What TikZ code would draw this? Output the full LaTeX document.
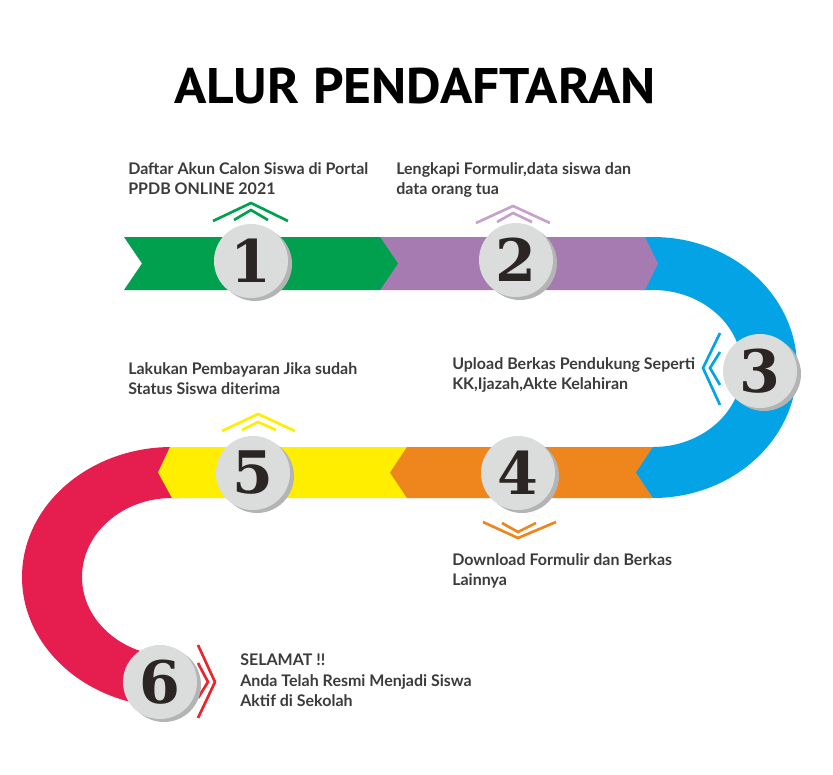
\documentclass[tikz,border=0pt]{standalone}
\usepackage{fontspec}
\usepackage{graphicx}
\setmainfont{Lato}
\newfontfamily\titlefont{PT Sans}
\newfontfamily\numfont{DejaVu Serif}
\definecolor{grn}{HTML}{00A04F}
\definecolor{prp}{HTML}{A67BB2}
\definecolor{prplight}{HTML}{C6A2CA}
\definecolor{blu}{HTML}{03A3E5}
\definecolor{org}{HTML}{EF861D}
\definecolor{ylw}{HTML}{FFEE00}
\definecolor{rd}{HTML}{E61E4F}
\definecolor{rdchev}{HTML}{E8262C}
\definecolor{badgegray}{HTML}{DBDCDC}
\definecolor{shadowgray}{HTML}{B4B4B4}
\definecolor{numdark}{HTML}{2B2523}
\definecolor{txtgray}{HTML}{3B3B3B}

\begin{document}
\begin{tikzpicture}[x=0.75pt,y=0.75pt,yscale=-1,xscale=1,
  badge/.style={circle,fill=badgegray,minimum size=55.5pt,inner sep=0pt,text=numdark,font=\numfont\bfseries\fontsize{44}{44}\selectfont},
  info/.style={anchor=north west,inner sep=0pt,align=left,text=txtgray,font=\bfseries\fontsize{12}{15.3}\selectfont},
  chev/.style={line width=2pt}]
\useasboundingbox (0,0) rectangle (833,775);

% Title
\draw (415,86) node (title) [inner sep=0pt] {\scalebox{1.07}[1]{\titlefont\bfseries\fontsize{37.5}{40}\selectfont ALUR PENDAFTARAN}};

%Shape: Red curve
\fill[rd] (180,447) -- (172,447) arc[start angle=-90,end angle=-270,x radius=150,y radius=130] -- (172,656) arc[start angle=-270,end angle=-90,x radius=90,y radius=79] -- (180,498) -- cycle;
%Shape: Yellow band
\fill[ylw] (170,447) -- (407,447) -- (407,498) -- (172,498) -- (158,472.5) -- cycle;
%Shape: Orange band
\fill[org] (407,447) -- (655,447) -- (655,498) -- (407,498) -- (390,472.5) -- cycle;
%Shape: Blue curve
\fill[blu] (640,237) -- (653,237) arc[start angle=-90,end angle=90,x radius=144,y radius=130.5] -- (636,472.5) -- (653,447) arc[start angle=90,end angle=-90,x radius=89,y radius=78.5] -- (640,290) -- cycle;
%Shape: Purple band
\fill[prp] (380,237) -- (645,237) -- (658,263.5) -- (645,290) -- (380,290) -- cycle;
%Shape: Green band
\fill[grn] (124,237) -- (380,237) -- (398,263.5) -- (380,290) -- (124,290) -- (142,263.5) -- cycle;

%Chevrons
\draw[chev,grn] (213,221) -- (251,203) -- (288,221);
\draw[chev,grn] (234,220) -- (251,210) -- (268,220);
\draw[chev,prplight] (476,223) -- (513,206) -- (550,223);
\draw[chev,prplight] (497,222) -- (513,213) -- (532,222);
\draw[chev,blu] (720,333) -- (703,368) -- (720,405);
\draw[chev,blu] (720,352) -- (710,368) -- (720,385);
\draw[chev,org] (483,522) -- (518,538) -- (556,522);
\draw[chev,org] (502,523) -- (518,532) -- (536,523);
\draw[chev,ylw] (222,431) -- (258,414) -- (295,431);
\draw[chev,ylw] (242,430) -- (258,422) -- (276,430);
\draw[chev,rdchev] (198,645) -- (215,682) -- (198,718);
\draw[chev,rdchev] (198,663) -- (208,682) -- (198,698);

%Badges
\fill[shadowgray] (255,264) circle (37);
\draw (251,261) node (b1) [badge] {1};
\fill[shadowgray] (520,263) circle (37);
\draw (516,260) node (b2) [badge] {2};
\fill[shadowgray] (764,374) circle (37);
\draw (760,371) node (b3) [badge] {3};
\fill[shadowgray] (522,476) circle (37);
\draw (518,473) node (b4) [badge] {4};
\fill[shadowgray] (257,476) circle (37);
\draw (253,473) node (b5) [badge] {5};
\fill[shadowgray] (164,685) circle (37);
\draw (160,682) node (b6) [badge] {6};

% Text Node
\draw (128,162) node (t1) [info] {Daftar Akun Calon Siswa di Portal\\PPDB ONLINE 2021};
% Text Node
\draw (396,162) node (t2) [info] {Lengkapi Formulir,data siswa dan\\data orang tua};
% Text Node
\draw (452,357) node (t3) [info] {Upload Berkas Pendukung Seperti\\KK,Ijazah,Akte Kelahiran};
% Text Node
\draw (452,553) node (t4) [info] {Download Formulir dan Berkas\\Lainnya};
% Text Node
\draw (128,362) node (t5) [info] {Lakukan Pembayaran Jika sudah\\Status Siswa diterima};
% Text Node
\draw (240,654) node (t6) [info] {SELAMAT !!\\Anda Telah Resmi Menjadi Siswa\\Aktif di Sekolah};

\end{tikzpicture}
\end{document}
